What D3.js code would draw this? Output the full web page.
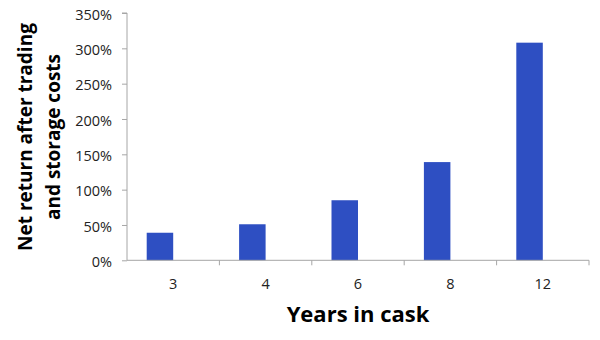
<!DOCTYPE html>
<html>
<head>
<meta charset="utf-8">
<script src="https://cdn.jsdelivr.net/npm/d3@7"></script>
<style>
  body { margin: 0; background: #fff; }
  svg { display: block; }
  .tick text { font-family: "Open Sans", sans-serif; font-size: 14.5px; fill: #222; }
  .title { font-family: "Open Sans", sans-serif; font-weight: bold; fill: #000; }
</style>
</head>
<body>
<div id="chart"></div>
<script>
var years = ["3", "4", "6", "8", "12"];
var netReturn = [39, 51, 85, 139, 308];
var yTicks = [0, 50, 100, 150, 200, 250, 300, 350];

var width = 600, height = 340;
var margin = {top: 13, left: 127, bottom: 80, right: 11};

var svg = d3.select("#chart").append("svg")
    .attr("width", width).attr("height", height);

var x = d3.scaleBand().domain(years)
    .range([margin.left, width - margin.right]);
var y = d3.scaleLinear().domain([0, 350])
    .range([height - margin.bottom + 0.3, margin.top]);

var barW = 26.5;

svg.append("g").selectAll("rect").data(netReturn)
    .enter().append("rect")
    .attr("x", function(d, i){ return x(years[i]) + x.bandwidth() / 2 - barW; })
    .attr("y", function(d){ return y(d); })
    .attr("width", barW)
    .attr("height", function(d){ return y(0) - y(d); })
    .attr("fill", "#2e4fc2");

var yAxis = d3.axisLeft(y).tickValues(yTicks).tickSize(5).tickPadding(10)
    .tickFormat(function(d){ return d + "%"; });
var gy = svg.append("g").attr("transform", "translate(" + margin.left + ",0)").call(yAxis);
gy.select(".domain").attr("stroke", "#a6a6a6").attr("d", "M-5," + y(350) + "H0V" + y(0));
gy.selectAll(".tick line").attr("stroke", "#a6a6a6");
gy.selectAll(".tick text").attr("dy", "0.42em");

var xAxis = d3.axisBottom(x).tickSize(0).tickPadding(18);
var gx = svg.append("g").attr("transform", "translate(0," + y(0) + ")").call(xAxis);
gx.select(".domain").attr("stroke", "#a6a6a6").attr("d", "M" + margin.left + ",0H" + (width - margin.right));
gx.selectAll(".tick text").attr("dy", "0.71em");

// category boundary ticks
gx.append("g").selectAll("line").data(years)
    .enter().append("line")
    .attr("x1", function(d){ return x(d) + x.bandwidth(); })
    .attr("x2", function(d){ return x(d) + x.bandwidth(); })
    .attr("y1", 0).attr("y2", 5)
    .attr("stroke", "#a6a6a6");

svg.append("text").attr("class", "title")
    .attr("x", 358).attr("y", 322)
    .attr("text-anchor", "middle")
    .style("font-size", "22px")
    .text("Years in cask");

var yt = svg.append("text").attr("class", "title")
    .attr("transform", "translate(31.5,137) rotate(-90)")
    .attr("text-anchor", "middle")
    .style("font-size", "19px");
yt.append("tspan").attr("x", 0).attr("dy", 0).text("Net return after trading");
yt.append("tspan").attr("x", 0).attr("dy", 28).text("and storage costs");
</script>
</body>
</html>
